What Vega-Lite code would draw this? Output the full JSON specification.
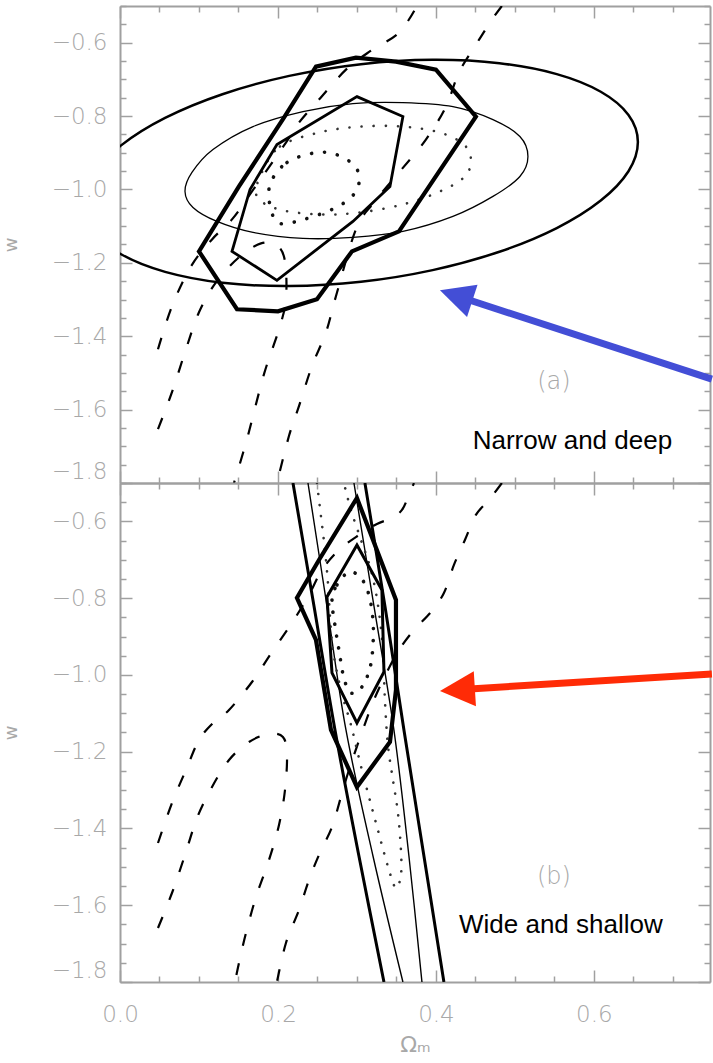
{
  "$schema": "https://vega.github.io/schema/vega-lite/v6.json",
  "padding": {"left": 2, "top": 5, "right": 0, "bottom": 0},
  "background": "white",
  "spacing": 0,
  "bounds": "flush",
  "config": {
    "view": {"stroke": null},
    "axis": {"grid": false, "domainColor": "#a0a0a0", "domainWidth": 2, "tickColor": "#a0a0a0", "tickWidth": 1.5, "labelColor": "#a8a8a8", "labelFont": "DejaVu Sans", "labelFontSize": 23, "labelFontWeight": 200, "titleColor": "#a8a8a8", "titleFont": "DejaVu Sans", "titleFontWeight": "normal"}
  },
  "datasets": {
    "top": [
      {"s":"E2","i":1,"om":0.6557,"w":-0.8708},{"s":"E2","i":2,"om":0.6438,"w":-0.7969},{"s":"E2","i":3,"om":0.6087,"w":-0.7337},{"s":"E2","i":4,"om":0.553,"w":-0.6857},{"s":"E2","i":5,"om":0.4804,"w":-0.6561},{"s":"E2","i":6,"om":0.3958,"w":-0.6468},{"s":"E2","i":7,"om":0.3051,"w":-0.6585},{"s":"E2","i":8,"om":0.2143,"w":-0.6905},{"s":"E2","i":9,"om":0.1297,"w":-0.7404},{"s":"E2","i":10,"om":0.0571,"w":-0.805},{"s":"E2","i":11,"om":0.0014,"w":-0.8799},{"s":"E2","i":12,"om":-0.0337,"w":-0.9597},{"s":"E2","i":13,"om":-0.0456,"w":-1.0395},{"s":"E2","i":14,"om":-0.0337,"w":-1.1133},{"s":"E2","i":15,"om":0.0014,"w":-1.1765},{"s":"E2","i":16,"om":0.0571,"w":-1.2245},{"s":"E2","i":17,"om":0.1297,"w":-1.2542},{"s":"E2","i":18,"om":0.2143,"w":-1.2634},{"s":"E2","i":19,"om":0.3051,"w":-1.2517},{"s":"E2","i":20,"om":0.3958,"w":-1.2198},{"s":"E2","i":21,"om":0.4804,"w":-1.1698},{"s":"E2","i":22,"om":0.553,"w":-1.1052},{"s":"E2","i":23,"om":0.6087,"w":-1.0303},{"s":"E2","i":24,"om":0.6438,"w":-0.9504},
      {"s":"E1","i":1,"om":0.0823,"w":-1.0054},{"s":"E1","i":2,"om":0.0911,"w":-0.9537},{"s":"E1","i":3,"om":0.1177,"w":-0.8912},{"s":"E1","i":4,"om":0.1684,"w":-0.8286},{"s":"E1","i":5,"om":0.2316,"w":-0.7878},{"s":"E1","i":6,"om":0.2949,"w":-0.766},{"s":"E1","i":7,"om":0.3582,"w":-0.7633},{"s":"E1","i":8,"om":0.4215,"w":-0.7742},{"s":"E1","i":9,"om":0.4722,"w":-0.8095},{"s":"E1","i":10,"om":0.5063,"w":-0.8558},{"s":"E1","i":11,"om":0.5165,"w":-0.9102},{"s":"E1","i":12,"om":0.5063,"w":-0.9646},{"s":"E1","i":13,"om":0.4722,"w":-1.019},{"s":"E1","i":14,"om":0.4215,"w":-1.0735},{"s":"E1","i":15,"om":0.3582,"w":-1.1143},{"s":"E1","i":16,"om":0.2949,"w":-1.1306},{"s":"E1","i":17,"om":0.2316,"w":-1.1333},{"s":"E1","i":18,"om":0.1684,"w":-1.117},{"s":"E1","i":19,"om":0.1228,"w":-1.0871},{"s":"E1","i":20,"om":0.0924,"w":-1.049},
      {"s":"P2","i":1,"om":0.2481,"w":-0.6653},{"s":"P2","i":2,"om":0.2987,"w":-0.6408},{"s":"P2","i":3,"om":0.3494,"w":-0.6517},{"s":"P2","i":4,"om":0.4,"w":-0.6735},{"s":"P2","i":5,"om":0.4506,"w":-0.8014},{"s":"P2","i":6,"om":0.3532,"w":-1.1143},{"s":"P2","i":7,"om":0.2937,"w":-1.1687},{"s":"P2","i":8,"om":0.2494,"w":-1.2993},{"s":"P2","i":9,"om":0.2,"w":-1.332},{"s":"P2","i":10,"om":0.1481,"w":-1.3265},{"s":"P2","i":11,"om":0.1,"w":-1.1687},{"s":"P2","i":12,"om":0.1506,"w":-0.9918},{"s":"P2","i":13,"om":0.2076,"w":-0.8041},
      {"s":"P1","i":1,"om":0.3,"w":-0.7469},{"s":"P1","i":2,"om":0.3582,"w":-0.8014},{"s":"P1","i":3,"om":0.3418,"w":-0.9918},{"s":"P1","i":4,"om":0.2949,"w":-1.0871},{"s":"P1","i":5,"om":0.1987,"w":-1.2476},{"s":"P1","i":6,"om":0.1418,"w":-1.1687},{"s":"P1","i":7,"om":0.1646,"w":-1.0},{"s":"P1","i":8,"om":0.1987,"w":-0.8776},
      {"s":"D2","i":1,"om":0.1785,"w":-0.9592},{"s":"D2","i":2,"om":0.2025,"w":-0.883},{"s":"D2","i":3,"om":0.2519,"w":-0.8449},{"s":"D2","i":4,"om":0.3038,"w":-0.8286},{"s":"D2","i":5,"om":0.3582,"w":-0.8286},{"s":"D2","i":6,"om":0.4051,"w":-0.8449},{"s":"D2","i":7,"om":0.4354,"w":-0.8776},{"s":"D2","i":8,"om":0.4443,"w":-0.9184},{"s":"D2","i":9,"om":0.4367,"w":-0.9646},{"s":"D2","i":10,"om":0.4051,"w":-1.0054},{"s":"D2","i":11,"om":0.3582,"w":-1.0408},{"s":"D2","i":12,"om":0.3038,"w":-1.0626},{"s":"D2","i":13,"om":0.2532,"w":-1.068},{"s":"D2","i":14,"om":0.2013,"w":-1.0544},{"s":"D2","i":15,"om":0.1734,"w":-1.0191},
      {"s":"D1","i":1,"om":0.1899,"w":-0.9864},{"s":"D1","i":2,"om":0.2114,"w":-0.9265},{"s":"D1","i":3,"om":0.2494,"w":-0.8993},{"s":"D1","i":4,"om":0.2772,"w":-0.9075},{"s":"D1","i":5,"om":0.2987,"w":-0.9401},{"s":"D1","i":6,"om":0.3025,"w":-0.9837},{"s":"D1","i":7,"om":0.2924,"w":-1.0218},{"s":"D1","i":8,"om":0.2684,"w":-1.0544},{"s":"D1","i":9,"om":0.2329,"w":-1.0816},{"s":"D1","i":10,"om":0.2025,"w":-1.0925},{"s":"D1","i":11,"om":0.1911,"w":-1.0544},
      {"s":"A2","i":1,"om":0.0481,"w":-1.4354},{"s":"A2","i":2,"om":0.0658,"w":-1.3184},{"s":"A2","i":3,"om":0.0899,"w":-1.2095},{"s":"A2","i":4,"om":0.1165,"w":-1.1361},{"s":"A2","i":5,"om":0.1418,"w":-1.0816},{"s":"A2","i":6,"om":0.1671,"w":-1.0054},{"s":"A2","i":7,"om":0.2101,"w":-0.8721},{"s":"A2","i":8,"om":0.2266,"w":-0.8177},{"s":"A2","i":9,"om":0.2519,"w":-0.7551},{"s":"A2","i":10,"om":0.2861,"w":-0.6735},{"s":"A2","i":11,"om":0.3177,"w":-0.6218},{"s":"A2","i":12,"om":0.3532,"w":-0.5728},{"s":"A2","i":13,"om":0.3759,"w":-0.5},
      {"s":"B2","i":1,"om":0.4835,"w":-0.5},{"s":"B2","i":2,"om":0.4709,"w":-0.5374},{"s":"B2","i":3,"om":0.4506,"w":-0.6054},{"s":"B2","i":4,"om":0.4291,"w":-0.6816},{"s":"B2","i":5,"om":0.4127,"w":-0.7742},{"s":"B2","i":6,"om":0.3873,"w":-0.864},{"s":"B2","i":7,"om":0.3532,"w":-0.9537},{"s":"B2","i":8,"om":0.3215,"w":-1.0354},{"s":"B2","i":9,"om":0.2987,"w":-1.1089},{"s":"B2","i":10,"om":0.2734,"w":-1.2912},{"s":"B2","i":11,"om":0.2608,"w":-1.3891},{"s":"B2","i":12,"om":0.243,"w":-1.4816},{"s":"B2","i":13,"om":0.2266,"w":-1.5905},{"s":"B2","i":14,"om":0.2139,"w":-1.6721},{"s":"B2","i":15,"om":0.1987,"w":-1.8},
      {"s":"C1","i":1,"om":0.0481,"w":-1.653},{"s":"C1","i":2,"om":0.0658,"w":-1.5524},{"s":"C1","i":3,"om":0.0835,"w":-1.4354},{"s":"C1","i":4,"om":0.1,"w":-1.3347},{"s":"C1","i":5,"om":0.1215,"w":-1.2531},{"s":"C1","i":6,"om":0.1506,"w":-1.185},{"s":"C1","i":7,"om":0.1785,"w":-1.1469},{"s":"C1","i":8,"om":0.1987,"w":-1.1524},{"s":"C1","i":9,"om":0.2089,"w":-1.1959},{"s":"C1","i":10,"om":0.2101,"w":-1.2993},{"s":"C1","i":11,"om":0.2013,"w":-1.381},{"s":"C1","i":12,"om":0.1823,"w":-1.5034},{"s":"C1","i":13,"om":0.1608,"w":-1.6803},{"s":"C1","i":14,"om":0.1443,"w":-1.8}
    ],
    "bot": [
      {"s":"OL","i":1,"om":0.219,"w":-0.5},{"s":"OL","i":2,"om":0.2456,"w":-0.8203},{"s":"OL","i":3,"om":0.2722,"w":-1.1434},{"s":"OL","i":4,"om":0.3025,"w":-1.4717},{"s":"OL","i":5,"om":0.3342,"w":-1.8},
      {"s":"OR","i":1,"om":0.3101,"w":-0.5},{"s":"OR","i":2,"om":0.3354,"w":-0.8203},{"s":"OR","i":3,"om":0.3595,"w":-1.1434},{"s":"OR","i":4,"om":0.3848,"w":-1.4717},{"s":"OR","i":5,"om":0.4101,"w":-1.8},
      {"s":"IL","i":1,"om":0.238,"w":-0.5},{"s":"IL","i":2,"om":0.262,"w":-0.8203},{"s":"IL","i":3,"om":0.2861,"w":-1.1434},{"s":"IL","i":4,"om":0.3203,"w":-1.4717},{"s":"IL","i":5,"om":0.3582,"w":-1.8},
      {"s":"IR","i":1,"om":0.2962,"w":-0.5},{"s":"IR","i":2,"om":0.3215,"w":-0.8203},{"s":"IR","i":3,"om":0.3468,"w":-1.1434},{"s":"IR","i":4,"om":0.3658,"w":-1.4717},{"s":"IR","i":5,"om":0.3823,"w":-1.8},
      {"s":"BP2","i":1,"om":0.3,"w":-0.539},{"s":"BP2","i":2,"om":0.3494,"w":-0.8047},{"s":"BP2","i":3,"om":0.3494,"w":-1.0392},{"s":"BP2","i":4,"om":0.3418,"w":-1.1747},{"s":"BP2","i":5,"om":0.3,"w":-1.292},{"s":"BP2","i":6,"om":0.2671,"w":-1.1434},{"s":"BP2","i":7,"om":0.2481,"w":-0.9089},{"s":"BP2","i":8,"om":0.224,"w":-0.7995},{"s":"BP2","i":9,"om":0.2519,"w":-0.7005},
      {"s":"BP1","i":1,"om":0.3,"w":-0.6614},{"s":"BP1","i":2,"om":0.3316,"w":-0.7787},{"s":"BP1","i":3,"om":0.3342,"w":-0.9923},{"s":"BP1","i":4,"om":0.3,"w":-1.1252},{"s":"BP1","i":5,"om":0.2684,"w":-0.9949},{"s":"BP1","i":6,"om":0.262,"w":-0.7969},
      {"s":"BD1","i":1,"om":0.2684,"w":-0.8047},{"s":"BD1","i":2,"om":0.2747,"w":-0.7656},{"s":"BD1","i":3,"om":0.2899,"w":-0.7318},{"s":"BD1","i":4,"om":0.3051,"w":-0.7474},{"s":"BD1","i":5,"om":0.3152,"w":-0.7917},{"s":"BD1","i":6,"om":0.3203,"w":-0.8568},{"s":"BD1","i":7,"om":0.3203,"w":-0.922},{"s":"BD1","i":8,"om":0.3165,"w":-0.9819},{"s":"BD1","i":9,"om":0.3063,"w":-1.0314},{"s":"BD1","i":10,"om":0.2924,"w":-1.047},{"s":"BD1","i":11,"om":0.2835,"w":-1.008},{"s":"BD1","i":12,"om":0.2772,"w":-0.935},{"s":"BD1","i":13,"om":0.2721,"w":-0.8699},
      {"s":"BD2","i":1,"om":0.2494,"w":-0.5},{"s":"BD2","i":2,"om":0.2544,"w":-0.5859},{"s":"BD2","i":3,"om":0.2595,"w":-0.6744},{"s":"BD2","i":4,"om":0.2633,"w":-0.7604},{"s":"BD2","i":5,"om":0.2658,"w":-0.8464},{"s":"BD2","i":6,"om":0.2696,"w":-0.935},{"s":"BD2","i":7,"om":0.2797,"w":-1.0392},{"s":"BD2","i":8,"om":0.2924,"w":-1.1304},{"s":"BD2","i":9,"om":0.3063,"w":-1.2477},{"s":"BD2","i":10,"om":0.3241,"w":-1.3858},{"s":"BD2","i":11,"om":0.3405,"w":-1.5082},{"s":"BD2","i":12,"om":0.3494,"w":-1.5551},{"s":"BD2","i":13,"om":0.3557,"w":-1.5212},{"s":"BD2","i":14,"om":0.3557,"w":-1.4561},{"s":"BD2","i":15,"om":0.3519,"w":-1.3597},{"s":"BD2","i":16,"om":0.3456,"w":-1.2737},{"s":"BD2","i":17,"om":0.3392,"w":-1.1825},{"s":"BD2","i":18,"om":0.3354,"w":-1.0653},{"s":"BD2","i":19,"om":0.3329,"w":-0.935},{"s":"BD2","i":20,"om":0.3266,"w":-0.8177},{"s":"BD2","i":21,"om":0.3177,"w":-0.7266},{"s":"BD2","i":22,"om":0.3051,"w":-0.6484},{"s":"BD2","i":23,"om":0.2924,"w":-0.5702},{"s":"BD2","i":24,"om":0.2835,"w":-0.5},
      {"s":"BA","i":1,"om":0.0481,"w":-1.4379},{"s":"BA","i":2,"om":0.0658,"w":-1.3336},{"s":"BA","i":3,"om":0.0835,"w":-1.2477},{"s":"BA","i":4,"om":0.1,"w":-1.1695},{"s":"BA","i":5,"om":0.119,"w":-1.1226},{"s":"BA","i":6,"om":0.138,"w":-1.0913},{"s":"BA","i":7,"om":0.1671,"w":-1.0184},{"s":"BA","i":8,"om":0.1924,"w":-0.9402},{"s":"BA","i":9,"om":0.2177,"w":-0.8646},{"s":"BA","i":10,"om":0.2392,"w":-0.7917},{"s":"BA","i":11,"om":0.2557,"w":-0.7266},{"s":"BA","i":12,"om":0.2772,"w":-0.6744},{"s":"BA","i":13,"om":0.3025,"w":-0.6354},{"s":"BA","i":14,"om":0.3253,"w":-0.6067},{"s":"BA","i":15,"om":0.3443,"w":-0.5911},{"s":"BA","i":16,"om":0.357,"w":-0.5702},{"s":"BA","i":17,"om":0.3658,"w":-0.5311},{"s":"BA","i":18,"om":0.3722,"w":-0.5},
      {"s":"BC","i":1,"om":0.0481,"w":-1.6593},{"s":"BC","i":2,"om":0.0658,"w":-1.5681},{"s":"BC","i":3,"om":0.0823,"w":-1.4691},{"s":"BC","i":4,"om":0.0975,"w":-1.3727},{"s":"BC","i":5,"om":0.1165,"w":-1.292},{"s":"BC","i":6,"om":0.138,"w":-1.2216},{"s":"BC","i":7,"om":0.1633,"w":-1.1747},{"s":"BC","i":8,"om":0.1886,"w":-1.1538},{"s":"BC","i":9,"om":0.2063,"w":-1.1616},{"s":"BC","i":10,"om":0.2114,"w":-1.2086},{"s":"BC","i":11,"om":0.2089,"w":-1.2998},{"s":"BC","i":12,"om":0.2013,"w":-1.391},{"s":"BC","i":13,"om":0.1886,"w":-1.4822},{"s":"BC","i":14,"om":0.1722,"w":-1.5786},{"s":"BC","i":15,"om":0.1595,"w":-1.6723},{"s":"BC","i":16,"om":0.1506,"w":-1.7505},{"s":"BC","i":17,"om":0.1456,"w":-1.8},
      {"s":"BB","i":1,"om":0.4835,"w":-0.5},{"s":"BB","i":2,"om":0.4671,"w":-0.5442},{"s":"BB","i":3,"om":0.4506,"w":-0.5832},{"s":"BB","i":4,"om":0.4367,"w":-0.6484},{"s":"BB","i":5,"om":0.4228,"w":-0.7135},{"s":"BB","i":6,"om":0.4101,"w":-0.7865},{"s":"BB","i":7,"om":0.3937,"w":-0.836},{"s":"BB","i":8,"om":0.3722,"w":-0.8829},{"s":"BB","i":9,"om":0.3532,"w":-0.935},{"s":"BB","i":10,"om":0.338,"w":-0.9923},{"s":"BB","i":11,"om":0.3215,"w":-1.0653},{"s":"BB","i":12,"om":0.3051,"w":-1.1565},{"s":"BB","i":13,"om":0.2899,"w":-1.2477},{"s":"BB","i":14,"om":0.2797,"w":-1.318},{"s":"BB","i":15,"om":0.2684,"w":-1.3962},{"s":"BB","i":16,"om":0.2519,"w":-1.4691},{"s":"BB","i":17,"om":0.2392,"w":-1.5343},{"s":"BB","i":18,"om":0.2266,"w":-1.6124},{"s":"BB","i":19,"om":0.2101,"w":-1.6984},{"s":"BB","i":20,"om":0.1987,"w":-1.8}
    ],
    "ann": [
      {"p":"a","k":"tag","label":"(a)","om":0.5494,"w":-1.5252},
      {"p":"a","k":"note","label":"Narrow and deep","om":0.5728,"w":-1.7075},
      {"p":"b","k":"tag","label":"(b)","om":0.5494,"w":-1.5264},
      {"p":"b","k":"note","label":"Wide and shallow","om":0.5582,"w":-1.6723}
    ],
    "arrows": [
      {"p":"a","part":"shaft","i":0,"om":0.7494,"w":-1.517},
      {"p":"a","part":"shaft","i":1,"om":0.4354,"w":-1.2966},
      {"p":"a","part":"head","i":0,"om":0.4051,"w":-1.2748},
      {"p":"b","part":"shaft","i":0,"om":0.7494,"w":-0.9975},
      {"p":"b","part":"shaft","i":1,"om":0.443,"w":-1.0366},
      {"p":"b","part":"head","i":0,"om":0.4051,"w":-1.0418}
    ]
  },
  "vconcat": [
    {
      "width": 590,
      "height": 477,
      "encoding": {
        "x": {"field": "om", "type": "quantitative", "scale": {"domain": [0, 0.747], "nice": false, "zero": false},
          "axis": {"values": [0,0.05,0.1,0.15,0.2,0.25,0.3,0.35,0.4,0.45,0.5,0.55,0.6,0.65,0.7], "labels": false, "title": null,
            "tickSize": {"condition": {"test": "abs(datum.value*5 - round(datum.value*5)) < 0.001", "value": -12}, "value": -6}}},
        "y": {"field": "w", "type": "quantitative", "scale": {"domain": [-1.8, -0.5], "nice": false, "zero": false},
          "axis": {"values": [-1.8,-1.75,-1.7,-1.65,-1.6,-1.55,-1.5,-1.45,-1.4,-1.35,-1.3,-1.25,-1.2,-1.15,-1.1,-1.05,-1.0,-0.95,-0.9,-0.85,-0.8,-0.75,-0.7,-0.65,-0.6,-0.55,-0.5],
            "labelExpr": "abs(datum.value*5 - round(datum.value*5)) < 0.001 ? format(datum.value, '.1f') : ''",
            "labelFlush": true, "labelPadding": 25, "title": "w", "titleX": -100, "titleFontSize": 18,
            "tickSize": {"condition": {"test": "abs(datum.value*5 - round(datum.value*5)) < 0.001", "value": -12}, "value": -6}}}
      },
      "layer": [
        {
          "layer": [
            {"data": {"name": "top"}, "transform": [{"filter": "indexof(['A2','B2','C1'], datum.s) >= 0"}],
             "mark": {"type": "line", "color": "#000", "strokeWidth": 2.2, "strokeDash": [12, 18], "interpolate": "cardinal", "clip": true},
             "encoding": {"order": {"field": "i", "type": "quantitative"}, "detail": {"field": "s", "type": "nominal"}}},
            {"data": {"name": "top"}, "transform": [{"filter": "datum.s === 'E2'"}],
             "mark": {"type": "line", "color": "#000", "strokeWidth": 2.5, "interpolate": "cardinal-closed", "clip": true},
             "encoding": {"order": {"field": "i", "type": "quantitative"}}},
            {"data": {"name": "top"}, "transform": [{"filter": "datum.s === 'E1'"}],
             "mark": {"type": "line", "color": "#000", "strokeWidth": 1.3, "interpolate": "cardinal-closed", "clip": true},
             "encoding": {"order": {"field": "i", "type": "quantitative"}}},
            {"data": {"name": "top"}, "transform": [{"filter": "datum.s === 'D2'"}],
             "mark": {"type": "line", "color": "#333", "strokeWidth": 2.6, "strokeDash": [0.1, 12], "strokeCap": "round", "interpolate": "cardinal-closed", "clip": true},
             "encoding": {"order": {"field": "i", "type": "quantitative"}}},
            {"data": {"name": "top"}, "transform": [{"filter": "datum.s === 'D1'"}],
             "mark": {"type": "line", "color": "#111", "strokeWidth": 3.6, "strokeDash": [0.1, 13], "strokeCap": "round", "interpolate": "cardinal-closed", "clip": true},
             "encoding": {"order": {"field": "i", "type": "quantitative"}}},
            {"data": {"name": "top"}, "transform": [{"filter": "datum.s === 'P2'"}],
             "mark": {"type": "line", "color": "#000", "strokeWidth": 4.2, "interpolate": "linear-closed", "clip": true},
             "encoding": {"order": {"field": "i", "type": "quantitative"}}},
            {"data": {"name": "top"}, "transform": [{"filter": "datum.s === 'P1'"}],
             "mark": {"type": "line", "color": "#000", "strokeWidth": 2.8, "interpolate": "linear-closed", "clip": true},
             "encoding": {"order": {"field": "i", "type": "quantitative"}}},
            {"data": {"name": "ann"}, "transform": [{"filter": "datum.p === 'a' && datum.k === 'tag'"}],
             "mark": {"type": "text", "font": "DejaVu Sans", "fontSize": 24, "fontWeight": 200, "color": "#a8a8a8", "align": "center", "baseline": "middle"},
             "encoding": {"text": {"field": "label"}}},
            {"data": {"name": "ann"}, "transform": [{"filter": "datum.p === 'a' && datum.k === 'note'"}],
             "mark": {"type": "text", "font": "Liberation Sans", "fontSize": 26, "color": "#000", "align": "center", "baseline": "alphabetic"},
             "encoding": {"text": {"field": "label"}}},
            {"data": {"name": "arrows"}, "transform": [{"filter": "datum.p === 'a' && datum.part === 'shaft'"}],
             "mark": {"type": "line", "color": "#434ed6", "strokeWidth": 7, "strokeCap": "butt", "clip": false},
             "encoding": {"order": {"field": "i", "type": "quantitative"}}},
            {"data": {"name": "arrows"}, "transform": [{"filter": "datum.p === 'a' && datum.part === 'head'"}],
             "mark": {"type": "point", "shape": "M0,0L2,-1L2,1Z", "size": 1156, "angle": 18, "filled": true, "color": "#434ed6", "opacity": 1, "strokeWidth": 0, "clip": false}}
          ]
        },
        {
          "data": {"values": [{"om": 0, "w": -1.8}]},
          "mark": {"type": "point", "opacity": 0},
          "encoding": {
            "x": {"field": "om", "type": "quantitative", "scale": {"domain": [0, 0.747], "nice": false, "zero": false},
              "axis": {"orient": "top", "values": [0,0.05,0.1,0.15,0.2,0.25,0.3,0.35,0.4,0.45,0.5,0.55,0.6,0.65,0.7], "labels": false, "title": null,
                "tickSize": {"condition": {"test": "abs(datum.value*5 - round(datum.value*5)) < 0.001", "value": -12}, "value": -6}}},
            "y": {"field": "w", "type": "quantitative", "scale": {"domain": [-1.8, -0.5], "nice": false, "zero": false},
              "axis": {"orient": "right", "values": [-1.8,-1.75,-1.7,-1.65,-1.6,-1.55,-1.5,-1.45,-1.4,-1.35,-1.3,-1.25,-1.2,-1.15,-1.1,-1.05,-1.0,-0.95,-0.9,-0.85,-0.8,-0.75,-0.7,-0.65,-0.6,-0.55,-0.5], "labels": false, "title": null,
                "tickSize": {"condition": {"test": "abs(datum.value*5 - round(datum.value*5)) < 0.001", "value": -12}, "value": -6}}}
          }
        }
      ],
      "resolve": {"axis": {"x": "independent", "y": "independent"}}
    },
    {
      "width": 590,
      "height": 499,
      "encoding": {
        "x": {"field": "om", "type": "quantitative", "scale": {"domain": [0, 0.747], "nice": false, "zero": false},
          "axis": {"values": [0,0.05,0.1,0.15,0.2,0.25,0.3,0.35,0.4,0.45,0.5,0.55,0.6,0.65,0.7],
            "labelExpr": "abs(datum.value*5 - round(datum.value*5)) < 0.001 ? format(datum.value, '.1f') : ''",
            "labelFlush": false, "labelPadding": 33, "title": "Ωₘ", "titleFontSize": 22, "titlePadding": 8,
            "tickSize": {"condition": {"test": "abs(datum.value*5 - round(datum.value*5)) < 0.001", "value": -12}, "value": -6}}},
        "y": {"field": "w", "type": "quantitative", "scale": {"domain": [-1.8, -0.5], "nice": false, "zero": false},
          "axis": {"values": [-1.8,-1.75,-1.7,-1.65,-1.6,-1.55,-1.5,-1.45,-1.4,-1.35,-1.3,-1.25,-1.2,-1.15,-1.1,-1.05,-1.0,-0.95,-0.9,-0.85,-0.8,-0.75,-0.7,-0.65,-0.6,-0.55,-0.5],
            "labelExpr": "abs(datum.value*5 - round(datum.value*5)) < 0.001 ? format(datum.value, '.1f') : ''",
            "labelFlush": true, "labelPadding": 25, "title": "w", "titleX": -100, "titleFontSize": 18,
            "tickSize": {"condition": {"test": "abs(datum.value*5 - round(datum.value*5)) < 0.001", "value": -12}, "value": -6}}}
      },
      "layer": [
        {
          "layer": [
            {"data": {"name": "bot"}, "transform": [{"filter": "indexof(['BA','BB','BC'], datum.s) >= 0"}],
             "mark": {"type": "line", "color": "#000", "strokeWidth": 2.2, "strokeDash": [12, 18], "interpolate": "cardinal", "clip": true},
             "encoding": {"order": {"field": "i", "type": "quantitative"}, "detail": {"field": "s", "type": "nominal"}}},
            {"data": {"name": "bot"}, "transform": [{"filter": "indexof(['OL','OR'], datum.s) >= 0"}],
             "mark": {"type": "line", "color": "#000", "strokeWidth": 3, "interpolate": "cardinal", "clip": true},
             "encoding": {"order": {"field": "i", "type": "quantitative"}, "detail": {"field": "s", "type": "nominal"}}},
            {"data": {"name": "bot"}, "transform": [{"filter": "indexof(['IL','IR'], datum.s) >= 0"}],
             "mark": {"type": "line", "color": "#000", "strokeWidth": 1.4, "interpolate": "cardinal", "clip": true},
             "encoding": {"order": {"field": "i", "type": "quantitative"}, "detail": {"field": "s", "type": "nominal"}}},
            {"data": {"name": "bot"}, "transform": [{"filter": "datum.s === 'BD2'"}],
             "mark": {"type": "line", "color": "#333", "strokeWidth": 2.6, "strokeDash": [0.1, 11], "strokeCap": "round", "interpolate": "cardinal", "clip": true},
             "encoding": {"order": {"field": "i", "type": "quantitative"}}},
            {"data": {"name": "bot"}, "transform": [{"filter": "datum.s === 'BD1'"}],
             "mark": {"type": "line", "color": "#111", "strokeWidth": 3.6, "strokeDash": [0.1, 12], "strokeCap": "round", "interpolate": "cardinal-closed", "clip": true},
             "encoding": {"order": {"field": "i", "type": "quantitative"}}},
            {"data": {"name": "bot"}, "transform": [{"filter": "datum.s === 'BP2'"}],
             "mark": {"type": "line", "color": "#000", "strokeWidth": 4.2, "interpolate": "linear-closed", "clip": true},
             "encoding": {"order": {"field": "i", "type": "quantitative"}}},
            {"data": {"name": "bot"}, "transform": [{"filter": "datum.s === 'BP1'"}],
             "mark": {"type": "line", "color": "#000", "strokeWidth": 3, "interpolate": "linear-closed", "clip": true},
             "encoding": {"order": {"field": "i", "type": "quantitative"}}},
            {"data": {"name": "ann"}, "transform": [{"filter": "datum.p === 'b' && datum.k === 'tag'"}],
             "mark": {"type": "text", "font": "DejaVu Sans", "fontSize": 24, "fontWeight": 200, "color": "#a8a8a8", "align": "center", "baseline": "middle"},
             "encoding": {"text": {"field": "label"}}},
            {"data": {"name": "ann"}, "transform": [{"filter": "datum.p === 'b' && datum.k === 'note'"}],
             "mark": {"type": "text", "font": "Liberation Sans", "fontSize": 26, "color": "#000", "align": "center", "baseline": "alphabetic"},
             "encoding": {"text": {"field": "label"}}},
            {"data": {"name": "arrows"}, "transform": [{"filter": "datum.p === 'b' && datum.part === 'shaft'"}],
             "mark": {"type": "line", "color": "#ff2b06", "strokeWidth": 7, "strokeCap": "butt", "clip": false},
             "encoding": {"order": {"field": "i", "type": "quantitative"}}},
            {"data": {"name": "arrows"}, "transform": [{"filter": "datum.p === 'b' && datum.part === 'head'"}],
             "mark": {"type": "point", "shape": "M0,0L2,-1L2,1Z", "size": 1225, "angle": -3.6, "filled": true, "color": "#ff2b06", "opacity": 1, "strokeWidth": 0, "clip": false}}
          ]
        },
        {
          "data": {"values": [{"om": 0, "w": -1.8}]},
          "mark": {"type": "point", "opacity": 0},
          "encoding": {
            "x": {"field": "om", "type": "quantitative", "scale": {"domain": [0, 0.747], "nice": false, "zero": false},
              "axis": {"orient": "top", "values": [0,0.05,0.1,0.15,0.2,0.25,0.3,0.35,0.4,0.45,0.5,0.55,0.6,0.65,0.7], "labels": false, "title": null,
                "tickSize": {"condition": {"test": "abs(datum.value*5 - round(datum.value*5)) < 0.001", "value": -12}, "value": -6}}},
            "y": {"field": "w", "type": "quantitative", "scale": {"domain": [-1.8, -0.5], "nice": false, "zero": false},
              "axis": {"orient": "right", "values": [-1.8,-1.75,-1.7,-1.65,-1.6,-1.55,-1.5,-1.45,-1.4,-1.35,-1.3,-1.25,-1.2,-1.15,-1.1,-1.05,-1.0,-0.95,-0.9,-0.85,-0.8,-0.75,-0.7,-0.65,-0.6,-0.55,-0.5], "labels": false, "title": null,
                "tickSize": {"condition": {"test": "abs(datum.value*5 - round(datum.value*5)) < 0.001", "value": -12}, "value": -6}}}
          }
        }
      ],
      "resolve": {"axis": {"x": "independent", "y": "independent"}}
    }
  ]
}
